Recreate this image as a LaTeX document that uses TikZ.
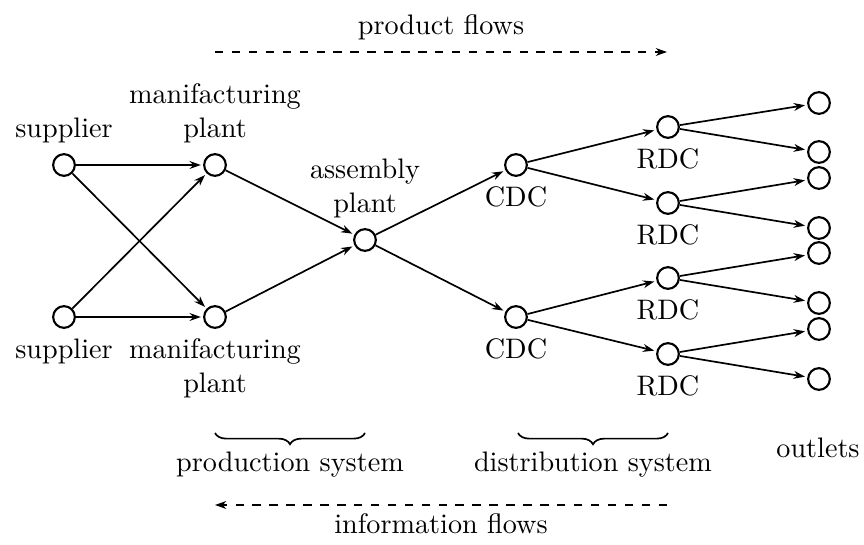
\documentclass[tikz,border=0pt]{standalone}
\usetikzlibrary{arrows.meta,decorations.pathreplacing}
\begin{document}
\begin{tikzpicture}[x=0.3546pt,y=-0.3546pt,
  site/.style={circle,draw,line width=0.75pt,inner sep=0pt,minimum size=7.7pt},
  flow/.style={line width=0.6pt,shorten >=0.8pt,-{Stealth[length=4pt,width=2.8pt,inset=1.3pt]}},
  wide/.style={dashed,line width=0.6pt,-{Stealth[length=4pt,width=2.8pt,inset=1.3pt]}},
  grp/.style={decorate,decoration={brace,mirror,amplitude=4pt},line width=0.6pt},
  every label/.style={align=center}]
\useasboundingbox (0,0) rectangle (864,545);

% suppliers
\node[site,label=above:supplier] (s1) at (64,165) {};
\node[site,label=below:supplier] (s2) at (64,317) {};
% manufacturing plants
\node[site,label={above:manifacturing\\plant}] (m1) at (215,165) {};
\node[site,label={below:manifacturing\\plant}] (m2) at (215,317) {};
% assembly plant
\node[site,label={above:assembly\\plant}] (a) at (365,240) {};
% central distribution centres
\node[site,label=below:CDC] (c1) at (516,165) {};
\node[site,label=below:CDC] (c2) at (516,317) {};
% regional distribution centres
\node[site,label=below:RDC] (r1) at (668,127) {};
\node[site,label=below:RDC] (r2) at (668,203) {};
\node[site,label=below:RDC] (r3) at (668,278) {};
\node[site,label=below:RDC] (r4) at (668,354) {};
% outlets
\node[site] (o1) at (819,103) {};
\node[site] (o2) at (819,152) {};
\node[site] (o3) at (819,178) {};
\node[site] (o4) at (819,228) {};
\node[site] (o5) at (819,253) {};
\node[site] (o6) at (819,303) {};
\node[site] (o7) at (819,329) {};
\node[site] (o8) at (819,379) {};

% product links
\draw[flow] (s1) -- (m1);
\draw[flow] (s1) -- (m2);
\draw[flow] (s2) -- (m1);
\draw[flow] (s2) -- (m2);
\draw[flow] (m1) -- (a);
\draw[flow] (m2) -- (a);
\draw[flow] (a) -- (c1);
\draw[flow] (a) -- (c2);
\draw[flow] (c1) -- (r1);
\draw[flow] (c1) -- (r2);
\draw[flow] (c2) -- (r3);
\draw[flow] (c2) -- (r4);
\draw[flow] (r1) -- (o1);
\draw[flow] (r1) -- (o2);
\draw[flow] (r2) -- (o3);
\draw[flow] (r2) -- (o4);
\draw[flow] (r3) -- (o5);
\draw[flow] (r3) -- (o6);
\draw[flow] (r4) -- (o7);
\draw[flow] (r4) -- (o8);

% flow directions
\coordinate (pf1) at (215,52);
\coordinate (pf2) at (667,52);
\draw[wide] (pf1) -- (pf2);
\node[anchor=base] (pft) at (441,35) {product flows};
\coordinate (if1) at (667,505);
\coordinate (if2) at (215,505);
\draw[wide] (if1) -- (if2);
\node[anchor=base] (ift) at (441,534) {information flows};

% system groupings
\coordinate (ps1) at (215,433);
\coordinate (ps2) at (365,433);
\coordinate (ds1) at (518,433);
\coordinate (ds2) at (668,433);
\draw[grp] (ps1) -- (ps2);
\draw[grp] (ds1) -- (ds2);
\node[anchor=base] (pst) at (290,472) {production system};
\node[anchor=base] (dst) at (593,472) {distribution system};
\node[anchor=base] (ot) at (818,458) {outlets};
\end{tikzpicture}
\end{document}
